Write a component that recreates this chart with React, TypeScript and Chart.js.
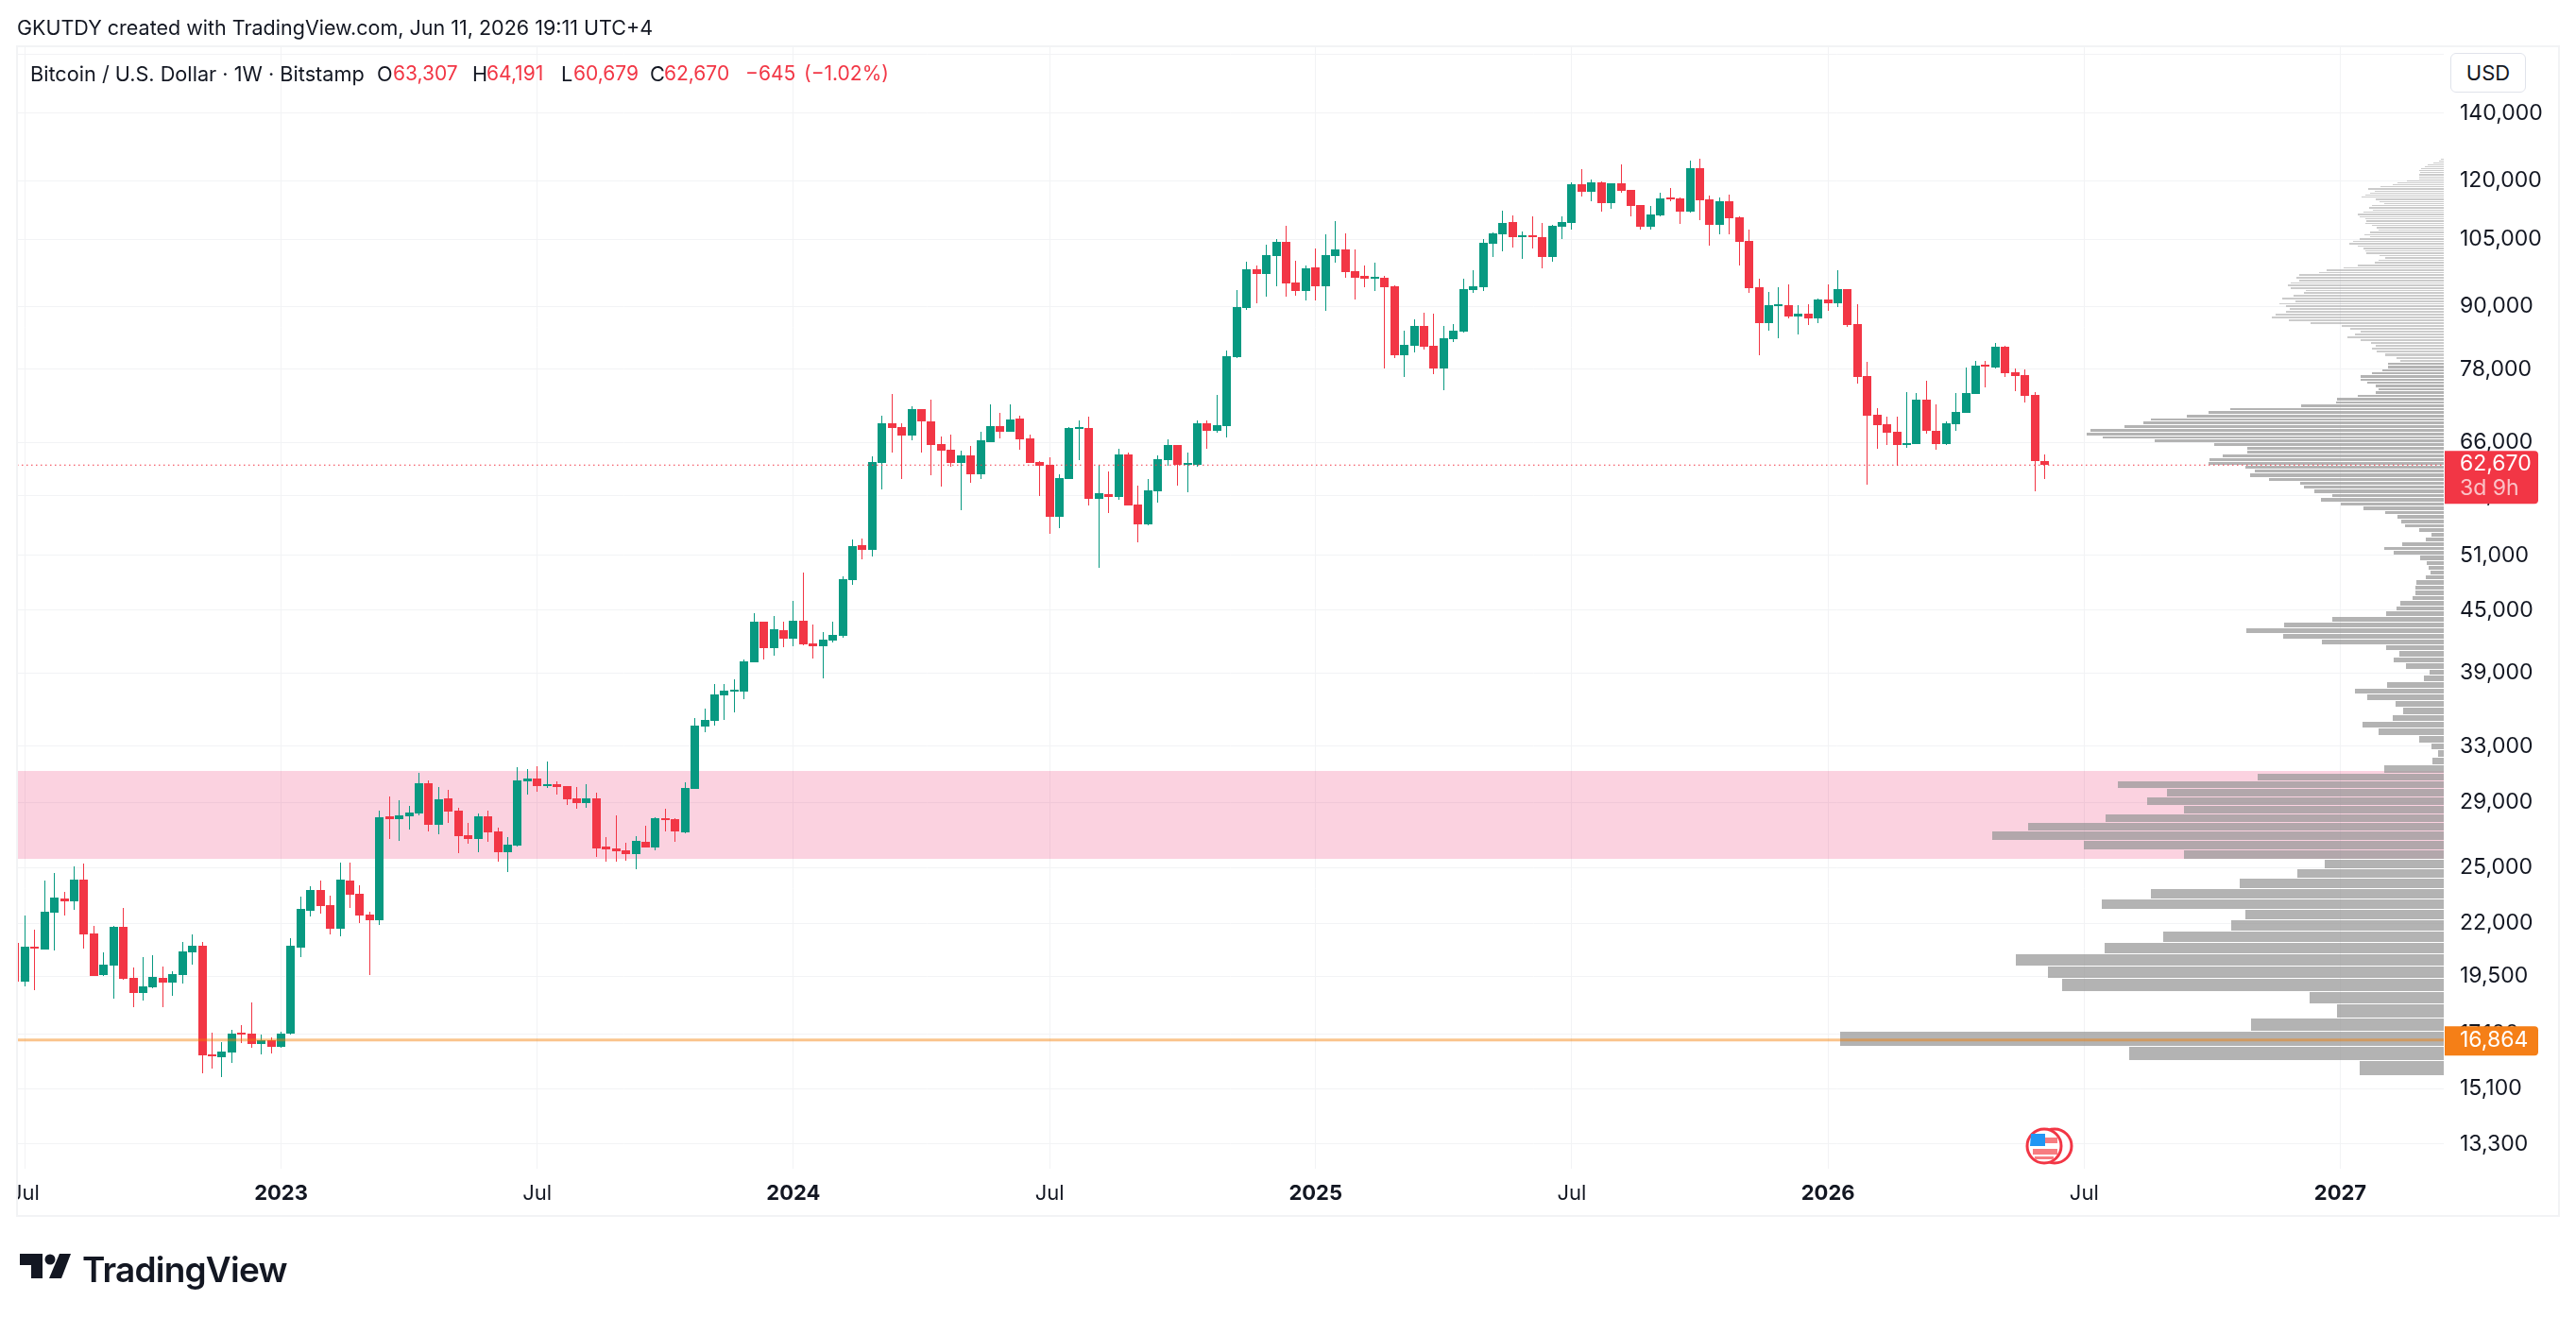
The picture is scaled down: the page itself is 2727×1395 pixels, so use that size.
import React, { useEffect, useRef } from 'react';
import { Chart, registerables } from 'chart.js';

Chart.register(...registerables);

const FONT = "Inter, 'Noto Sans', sans-serif";
const UP = '#089981';
const DOWN = '#F23645';
const INK = '#131722';
const GRID = '#f2f3f5';

// weekly candles, first entry is the one cut off at the left edge
const opens = [
  21051, 19270, 20871, 20737, 22556, 23297, 23148, 24324, 21510, 19563,
  19989, 21837, 19437, 18776, 19023, 19437, 19228, 19563, 20603, 20916,
  16321, 16215, 16392, 17114, 17114, 16716, 16856, 16603, 17114, 20826,
  22653, 23754, 22947, 21744, 24272, 23551, 22458, 22170, 28107, 27926,
  28107, 28288, 30310, 27566, 29283, 28473, 26921, 26689, 28107, 27152,
  25895, 26289, 30442, 30640, 30112, 30244, 30112, 29283, 28967, 29283,
  26232, 26119, 26006, 25784, 26516, 26176, 27986, 27926, 27093, 29921,
  34498, 34949, 37046, 37366, 37366, 39948, 43832, 41264, 42990, 42166,
  43927, 41709, 41442, 41981, 42437, 48197, 52200, 51640, 62973, 68946,
  68354, 67039, 71204, 69244, 65749, 64906, 62973, 64066, 61360, 66036,
  68500, 67621, 69695, 66606, 63110, 62704, 55690, 60708, 68060, 68207,
  58015, 58649, 58271, 64206, 57274, 54738, 59027, 63379, 65606, 62704,
  62704, 68946, 67768, 68497, 80183, 89703, 97997, 96940, 100997, 104322,
  95078, 93252, 98420, 94250, 100997, 102537, 97574, 96517, 95900, 96094,
  94250, 80532, 82287, 86100, 82287, 78132, 83532, 84986, 93454, 94060,
  103871, 106136, 109156, 105450, 105675, 105450, 100782, 107979, 108921, 118992,
  116955, 119505, 113968, 119249, 117458, 113477, 107979, 110814, 115197, 115197,
  111777, 123434, 114951, 108450, 114443, 110333, 104548, 94060, 86644, 90090,
  90284, 87977, 88540, 87596, 91458, 90672, 93656, 86472, 76798, 70291,
  68794, 67621, 65606, 65749, 72767, 67768, 65749, 68794, 70603, 73713,
  78640, 78300, 82110, 77465, 76964, 73556, 63307,
];
const highs = [
  21400, 22409, 21697, 24272, 24695, 23652, 25071, 25234, 21884, 20603,
  21884, 22800, 19904, 20382, 20468, 19947, 19733, 21097, 21464, 21097,
  17151, 16787, 17262, 17450, 18377, 17077, 16967, 17188, 21277, 23398,
  23960, 24272, 23449, 25288, 25288, 24012, 22605, 28473, 29409, 29157,
  28782, 31039, 30508, 30050, 29857, 28658, 27685, 28288, 28473, 27389,
  26805, 31443, 31308, 31510, 31853, 30442, 30140, 30050, 30244, 29664,
  26805, 28164, 26459, 26862, 27507, 28047, 28597, 27990, 30376, 35174,
  35941, 38017, 38017, 38428, 40209, 44690, 43860, 44398, 43832, 45966,
  49034, 43547, 42802, 43832, 48612, 52879, 52992, 63934, 70144, 73713,
  68946, 71673, 71240, 72767, 66895, 67182, 64767, 65468, 67621, 71986,
  70603, 71986, 70144, 67182, 63248, 63790, 61360, 68354, 69395, 69994,
  62704, 61763, 65048, 64487, 59799, 60708, 64072, 66465, 65640, 64487,
  69395, 69395, 73549, 81402, 93454, 99702, 98843, 103646, 104999, 108214,
  99918, 98843, 102758, 106136, 109391, 106366, 102537, 98843, 99486, 96517,
  94457, 85172, 87408, 88733, 88540, 86100, 86472, 95900, 97785, 104999,
  106596, 112017, 110814, 106827, 110574, 108921, 108450, 110574, 119505, 123166,
  120275, 119762, 119280, 124506, 117490, 113510, 113231, 116704, 117960, 115448,
  125577, 126125, 115951, 115448, 116200, 110574, 107285, 95900, 93049, 94060,
  94667, 90284, 90478, 91653, 94667, 97785, 93690, 90478, 79313, 71367,
  69994, 69994, 74034, 73875, 75970, 71986, 69244, 73875, 78302, 79487,
  79487, 82821, 82287, 78132, 77962, 74034, 64191,
];
const lows = [
  19040, 19064, 18899, 20737, 20692, 22409, 22702, 20781, 19500, 19540,
  18535, 19354, 18180, 18456, 18981, 18180, 18653, 19187, 20032, 15632,
  15801, 15497, 16007, 16752, 16568, 16321, 16357, 16568, 17090, 20382,
  22361, 22507, 21464, 21370, 22800, 22028, 19563, 21932, 26689, 26573,
  27270, 28167, 27152, 26975, 27685, 25840, 26403, 25895, 26516, 25340,
  24748, 26260, 29535, 29728, 29985, 29535, 28844, 28597, 28658, 25618,
  25340, 25340, 25395, 24908, 26150, 26006, 27152, 26516, 27060, 29900,
  34054, 34573, 35020, 35628, 36725, 39920, 40209, 40558, 41353, 41442,
  41530, 40296, 38511, 41799, 42255, 47678, 50537, 50865, 59284, 64487,
  60708, 66322, 64487, 61226, 59671, 62436, 56535, 60185, 60708, 66010,
  66606, 67590, 64906, 62950, 58397, 53570, 54265, 60680, 63386, 57146,
  49565, 56165, 57890, 57120, 52540, 54619, 57520, 62570, 59799, 58900,
  62436, 65048, 67473, 66742, 80100, 89315, 90672, 92037, 94250, 92037,
  92253, 91262, 91262, 89121, 99486, 96094, 91458, 94060, 93252, 78132,
  80009, 76630, 81042, 81576, 77130, 74343, 82999, 84900, 92847, 93252,
  100782, 102095, 102978, 100349, 102758, 98208, 99702, 104999, 107285, 115700,
  114443, 111777, 112494, 116704, 110574, 107285, 107285, 110574, 114443, 108686,
  111536, 109627, 103420, 106136, 106136, 98843, 92847, 80532, 85172, 83710,
  87596, 84445, 86286, 86644, 89121, 89896, 85915, 75486, 59928, 65048,
  65606, 62570, 65188, 65720, 67328, 64906, 65606, 67768, 70570, 73680,
  74833, 78132, 76630, 74180, 72298, 59027, 60679,
];
const closes = [
  19270, 20871, 20781, 22605, 23347, 23148, 24324, 21464, 19521, 20032,
  21837, 19396, 18776, 19064, 19479, 19228, 19605, 20648, 20916, 16286,
  16251, 16427, 17114, 17077, 16716, 16856, 16603, 17114, 20916, 22751,
  23754, 22898, 21744, 24324, 23500, 22409, 22170, 28047, 27926, 28164,
  28349, 30310, 27566, 29220, 28411, 26862, 26689, 28107, 27093, 25895,
  26346, 30508, 30640, 30112, 30244, 30050, 29220, 28967, 29283, 26119,
  26062, 25950, 25784, 26573, 26176, 27986, 27865, 27152, 29985, 34573,
  35020, 37126, 37446, 37446, 40034, 43832, 41264, 43083, 42166, 43927,
  41620, 41442, 42072, 42528, 48300, 52087, 51640, 63110, 68946, 68207,
  67039, 71204, 69244, 65606, 64767, 62973, 64066, 61360, 66322, 68500,
  67621, 69545, 66465, 62973, 62570, 55690, 60840, 68207, 68207, 58015,
  58775, 58271, 64206, 57146, 54738, 59156, 63510, 65606, 62704, 62839,
  68946, 67768, 68647, 80357, 89896, 97997, 96940, 101213, 104322, 94871,
  93252, 98208, 94250, 101213, 102537, 97363, 96094, 95900, 96094, 94060,
  80532, 82465, 86100, 82110, 78132, 83710, 85172, 93656, 94250, 104097,
  106366, 108921, 105450, 105675, 105450, 100782, 108214, 109156, 118992, 116955,
  119505, 113968, 119249, 117207, 113231, 107979, 111055, 115197, 114951, 111777,
  123434, 114697, 108450, 114443, 110098, 104322, 93859, 86644, 90284, 90284,
  87977, 88540, 87596, 91458, 90672, 93656, 86286, 76630, 70144, 68647,
  67473, 65606, 65892, 72767, 67768, 65749, 68946, 70756, 73875, 78640,
  78470, 82110, 77298, 76798, 73396, 63200, 62670,
];

// volume profile rows, bottom to top
const profilePrices = [
  15790, 16343, 16897, 17450, 18003, 18557, 19110, 19663, 20216, 20770,
  21323, 21876, 22430, 22983, 23536, 24090, 24643, 25196, 25749, 26303,
  26856, 27409, 27963, 28516, 29069, 29623, 30176, 30729, 31282, 31836,
  32389, 32942, 33496, 34049, 34602, 35156, 35709, 36262, 36815, 37369,
  37922, 38475, 39029, 39582, 40135, 40689, 41242, 41795, 42348, 42902,
  43455, 44008, 44562, 45115, 45668, 46222, 46775, 47328, 47881, 48435,
  48988, 49541, 50095, 50648, 51201, 51755, 52308, 52861, 53414, 53968,
  54521, 55074, 55628, 56181, 56734, 57288, 57841, 58394, 58947, 59501,
  60054, 60607, 61161, 61714, 62267, 62821, 63374, 63927, 64480, 65034,
  65587, 66140, 66694, 67247, 67800, 68354, 68907, 69460, 70013, 70567,
  71120, 71673, 72227, 72780, 73333, 73887, 74440, 74993, 75546, 76100,
  76653, 77206, 77760, 78313, 78866, 79420, 79973, 80526, 81079, 81633,
  82186, 82739, 83293, 83846, 84399, 84953, 85506, 86059, 86612, 87166,
  87719, 88272, 88826, 89379, 89932, 90486, 91039, 91592, 92145, 92699,
  93252, 93805, 94359, 94912, 95465, 96019, 96572, 97125, 97678, 98232,
  98785, 99338, 99892, 100445, 100998, 101552, 102105, 102658, 103211, 103765,
  104318, 104871, 105425, 105978, 106531, 107085, 107638, 108191, 108744, 109298,
  109851, 110404, 110958, 111511, 112064, 112618, 113171, 113724, 114277, 114831,
  115384, 115937, 116491, 117044, 117597, 118151, 118704, 119257, 119810, 120364,
  120917, 121470, 122024, 122577, 123130, 123684, 124237, 124790, 125343, 125897,
];
const profileVolumes = [
  89, 333, 639, 204, 113, 142, 404, 419, 453, 359,
  297, 225, 210, 362, 310, 216, 155, 126, 275, 381,
  478, 440, 358, 275, 314, 293, 345, 197, 63, 12,
  6, 13, 26, 69, 86, 54, 43, 51, 81, 94,
  60, 21, 15, 40, 53, 47, 61, 129, 170, 209,
  169, 118, 61, 50, 46, 33, 30, 30, 29, 19,
  14, 16, 18, 25, 53, 63, 44, 19, 13, 26,
  41, 45, 49, 62, 85, 109, 130, 118, 137, 148,
  152, 185, 205, 200, 210, 249, 248, 234, 208, 208,
  243, 306, 361, 378, 374, 338, 318, 310, 272, 249,
  226, 151, 114, 113, 91, 72, 69, 72, 81, 88,
  88, 76, 65, 59, 59, 46, 50, 62, 71, 76,
  72, 77, 88, 102, 94, 88, 99, 108, 141, 164,
  182, 178, 167, 163, 167, 174, 157, 171, 159, 148,
  146, 162, 165, 162, 153, 156, 153, 132, 124, 106,
  91, 73, 69, 62, 68, 82, 83, 85, 91, 100,
  96, 89, 78, 84, 78, 69, 71, 76, 83, 82,
  83, 89, 91, 85, 75, 79, 76, 63, 68, 72,
  87, 83, 78, 73, 80, 67, 54, 49, 39, 26,
  26, 26, 25, 26, 24, 20, 17, 11, 5, 3,
];

const priceTicks = [160000, 140000, 120000, 105000, 90000, 78000, 66000, 58500, 51000, 45000, 39000, 33000, 29000, 25000, 22000, 19500, 17100, 15100, 13300];
const weekTicks = [1, 27, 53, 79, 105, 132, 158, 184, 210, 236];
const weekLabels = ['Jul', '2023', 'Jul', '2024', 'Jul', '2025', 'Jul', '2026', 'Jul', '2027'];

const LAST_PRICE = 62670;
const LEVEL_PRICE = 16864;
const ZONE_TOP = 31172;
const ZONE_BOTTOM = 25506;

const WEEK_MIN = 0.2;
const WEEK_MAX = 246.5;
const PRICE_MIN = 12571;
const PRICE_MAX = 162700;

const span = [WEEK_MIN, WEEK_MAX];

// keeps candles and profile rows on whole pixels, same as the original renderer
const snapPlugin = {
  id: 'snap',
  afterDatasetUpdate(chart: any, args: any) {
    const snap = chart.data.datasets[args.index].snap;
    if (snap === 'candle') {
      args.meta.data.forEach((el: any) => {
        el.x = Math.floor(el.x) + 0.5;
        el.y = Math.round(el.y);
        el.base = Math.round(el.base);
      });
    }
    if (snap === 'row') {
      args.meta.data.forEach((el: any) => {
        const top = Math.round(el.y - el.height / 2);
        const bottom = Math.max(Math.round(el.y + el.height / 2), top + 2);
        el.y = (top + bottom) / 2;
        el.height = bottom - top;
      });
    }
  },
};

const tagPlugin = {
  id: 'tags',
  afterDraw(chart: any) {
    const { ctx, scales } = chart;
    const left = chart.chartArea.right + 1;
    const lastY = scales.y.getPixelForValue(LAST_PRICE);
    const levelY = scales.y.getPixelForValue(LEVEL_PRICE);
    ctx.save();
    ctx.font = `23px ${FONT}`;
    ctx.textBaseline = 'middle';

    ctx.fillStyle = DOWN;
    ctx.beginPath();
    ctx.roundRect(left, lastY - 15, 99, 56, [0, 4, 4, 0]);
    ctx.fill();
    ctx.fillStyle = '#fff';
    ctx.fillText('62,670', left + 16, lastY - 1);
    ctx.fillStyle = 'rgba(255,255,255,0.7)';
    ctx.fillText('3d 9h', left + 16, lastY + 25);

    ctx.fillStyle = '#F57F17';
    ctx.beginPath();
    ctx.roundRect(left, levelY - 14.5, 99, 31, [0, 4, 4, 0]);
    ctx.fill();
    ctx.fillStyle = '#fff';
    ctx.fillText('16,864', left + 16, levelY);
    ctx.restore();
  },
};

const text = (x: number, y: number, size: number): React.CSSProperties => ({
  position: 'absolute',
  left: x,
  top: y,
  fontFamily: FONT,
  fontSize: size,
  lineHeight: '28px',
  color: INK,
  whiteSpace: 'nowrap',
});

const legendParts: [string, number, string, number][] = [
  ['Bitcoin / U.S. Dollar · 1W · Bitstamp', 32, INK, 21.7],
  ['O', 399, INK, 21.7],
  ['63,307', 416, DOWN, 21],
  ['H', 500, INK, 21.7],
  ['64,191', 515, DOWN, 21],
  ['L', 594, INK, 21.7],
  ['60,679', 607, DOWN, 21],
  ['C', 688, INK, 21.7],
  ['62,670', 703, DOWN, 21],
  ['−645', 789, DOWN, 21],
  ['(−1.02%)', 851, DOWN, 21],
];

const App = (): JSX.Element => {
  const canvasRef = useRef<HTMLCanvasElement>(null);

  useEffect(() => {
    if (!canvasRef.current) return;

    const chart = new Chart(canvasRef.current, {
      type: 'bar',
      data: {
        datasets: [
          {
            type: 'line',
            indexAxis: 'x',
            xAxisID: 'x',
            yAxisID: 'y',
            data: span.map((x) => ({ x, y: ZONE_TOP })),
            borderWidth: 0,
            pointRadius: 0,
            backgroundColor: 'rgba(233,30,99,0.2)',
            fill: { value: ZONE_BOTTOM },
            order: 10,
          },
          {
            data: profilePrices.map((y, i) => ({ x: profileVolumes[i], y })),
            indexAxis: 'y',
            xAxisID: 'x2',
            yAxisID: 'y',
            barThickness: 'flex',
            categoryPercentage: 1,
            barPercentage: 1,
            inflateAmount: 0,
            borderWidth: { top: 0, right: 0, bottom: 1, left: 0 },
            borderColor: 'transparent',
            borderSkipped: false,
            backgroundColor: (ctx: any) =>
              profilePrices[ctx.dataIndex] > 79000 ? 'rgba(151,151,151,0.5)' : 'rgba(151,151,151,0.73)',
            snap: 'row',
            order: 9,
          },
          {
            data: lows.map((low, i) => ({ x: i, y: [low, highs[i]] })),
            indexAxis: 'x',
            xAxisID: 'x',
            yAxisID: 'y',
            grouped: false,
            barThickness: 1,
            maxBarThickness: 1,
            inflateAmount: 0,
            backgroundColor: closes.map((c, i) => (c >= opens[i] ? UP : DOWN)),
            snap: 'candle',
            order: 8,
          },
          {
            data: opens.map((open, i) => ({ x: i, y: [open, closes[i]] })),
            indexAxis: 'x',
            xAxisID: 'x',
            yAxisID: 'y',
            grouped: false,
            barThickness: 9,
            maxBarThickness: 9,
            minBarLength: 2,
            inflateAmount: 0,
            backgroundColor: closes.map((c, i) => (c >= opens[i] ? UP : DOWN)),
            snap: 'candle',
            order: 7,
          },
          {
            type: 'line',
            indexAxis: 'x',
            xAxisID: 'x',
            yAxisID: 'y',
            data: span.map((x) => ({ x, y: LAST_PRICE })),
            borderColor: DOWN,
            borderWidth: 1.2,
            borderDash: [1.5, 3.5],
            pointRadius: 0,
            order: 2,
          },
          {
            type: 'line',
            indexAxis: 'x',
            xAxisID: 'x',
            yAxisID: 'y',
            data: span.map((x) => ({ x, y: LEVEL_PRICE })),
            borderColor: 'rgba(245,124,0,0.45)',
            borderWidth: 3,
            pointRadius: 0,
            order: 1,
          },
        ] as any,
      },
      options: {
        responsive: false,
        animation: false,
        devicePixelRatio: 1,
        events: [],
        // all bars share the y axis, so the horizontal profile rows keep their full height
        indexAxis: 'y',
        layout: { padding: { left: 18, top: 50, right: 18, bottom: 108 } },
        plugins: { legend: { display: false }, tooltip: { enabled: false } },
        scales: {
          x: {
            type: 'linear',
            axis: 'x',
            position: 'bottom',
            min: WEEK_MIN,
            max: WEEK_MAX,
            bounds: 'data',
            offset: false,
            beginAtZero: false,
            grid: { color: GRID, offset: false, drawTicks: false },
            border: { display: false },
            afterBuildTicks: (axis: any) => {
              axis.ticks = weekTicks.map((value) => ({ value }));
            },
            afterFit: (axis: any) => {
              axis.height = 50;
              axis.paddingLeft = 0;
              axis.paddingRight = 0;
            },
            ticks: {
              autoSkip: false,
              maxRotation: 0,
              padding: 13,
              color: INK,
              font: (ctx: any) => ({
                family: FONT,
                size: 22,
                weight: weekLabels[weekTicks.indexOf(ctx.tick?.value)] === 'Jul' ? '400' : '700',
              }),
              callback: (value: any) => weekLabels[weekTicks.indexOf(value)],
            },
          },
          y: {
            type: 'logarithmic',
            axis: 'y',
            position: 'right',
            min: PRICE_MIN,
            max: PRICE_MAX,
            bounds: 'data',
            offset: false,
            grid: { color: GRID, offset: false, drawTicks: false },
            border: { display: false },
            afterBuildTicks: (axis: any) => {
              axis.ticks = priceTicks.map((value) => ({ value }));
            },
            afterFit: (axis: any) => {
              axis.width = 122;
              axis.paddingTop = 0;
              axis.paddingBottom = 0;
            },
            ticks: {
              autoSkip: false,
              padding: 17,
              color: INK,
              font: { family: FONT, size: 23 },
              // the top line has no label in the original, the USD box sits there
              callback: (value: any) => (value === 160000 ? '' : Number(value).toLocaleString('en-US')),
            },
          },
          x2: {
            type: 'linear',
            axis: 'x',
            display: false,
            reverse: true,
            min: 0,
            max: 2569,
            bounds: 'data',
            offset: false,
            grid: { display: false, offset: false },
          },
        },
      } as any,
      plugins: [snapPlugin, tagPlugin] as any,
    });

    return () => {
      chart.destroy();
    };
  }, []);

  return (
    <div style={{ position: 'absolute', left: 0, top: 0, width: 2727, height: 1395, background: '#fff', overflow: 'hidden' }}>
      <canvas ref={canvasRef} width={2727} height={1395} style={{ position: 'absolute', left: 0, top: 0 }} />
      {/* the first Jul label runs past the frame */}
      <div style={{ position: 'absolute', left: 0, top: 1240, width: 18, height: 50, background: '#fff' }} />
      <div
        style={{
          position: 'absolute',
          left: 17,
          top: 48,
          width: 2693,
          height: 1240,
          boxSizing: 'border-box',
          border: `2px solid ${GRID}`,
        }}
      />
      <div style={text(18, 15, 21.5)}>GKUTDY created with TradingView.com, Jun 11, 2026 19:11 UTC+4</div>
      {legendParts.map(([label, x, color, size]) => (
        <div key={`${label}${x}`} style={{ ...text(x, 64, size), color }}>
          {label}
        </div>
      ))}
      <div
        style={{
          ...text(2594, 56, 22),
          width: 80,
          height: 42,
          lineHeight: '40px',
          textAlign: 'center',
          boxSizing: 'border-box',
          border: '1px solid #e0e3eb',
          borderRadius: 6,
          background: '#fff',
        }}
      >
        USD
      </div>
      <svg style={{ position: 'absolute', left: 2144, top: 1192 }} width={54} height={41} viewBox="0 0 54 41">
        <circle cx="31" cy="21" r="18" fill="#fff" stroke={DOWN} strokeWidth="3" />
        <circle cx="20" cy="21" r="18" fill="#fff" stroke={DOWN} strokeWidth="3" />
        <rect x="8" y="12" width="26" height="6" fill="#F77C80" />
        <rect x="8" y="24" width="26" height="6" fill="#F77C80" />
        <rect x="10" y="32" width="20" height="3" fill="#F77C80" />
        <path d="M6 8 H21 V21 H5 Z" fill="#2196F3" />
      </svg>
      <svg style={{ position: 'absolute', left: 20, top: 1326 }} width={56} height={28} viewBox="0 0 56 28">
        <path d="M1 1 H25 V27 H13 V13 H1 Z" fill={INK} />
        <circle cx="33" cy="7" r="5.5" fill={INK} />
        <path d="M43 1 H55 L45 27 H32 Z" fill={INK} />
      </svg>
      <div
        style={{
          ...text(87, 1322, 37),
          lineHeight: '44px',
          fontWeight: 600,
          letterSpacing: -0.8,
        }}
      >
        TradingView
      </div>
    </div>
  );
};

export default App;
